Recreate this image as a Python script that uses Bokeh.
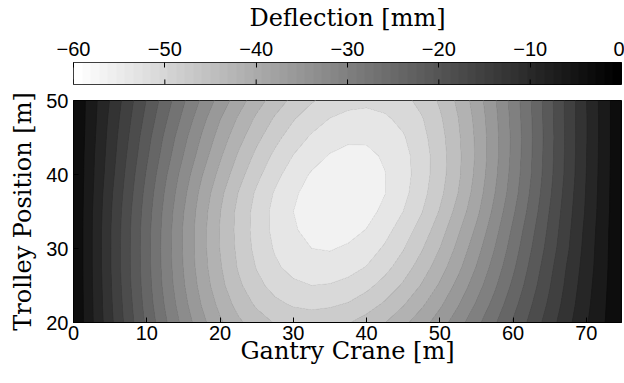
import numpy as np
from bokeh.plotting import figure
from bokeh.layouts import column
from bokeh.models import Range1d, FixedTicker, LinearColorMapper
from bokeh.embed import file_html
from bokeh.resources import INLINE

# ---- data ----
gantry_x = [0.0, 2.5, 5.0, 7.5, 10.0, 12.5, 15.0, 17.5, 20.0, 22.5, 25.0, 27.5, 30.0, 32.5, 35.0,
            37.5, 40.0, 42.5, 45.0, 47.5, 50.0, 52.5, 55.0, 57.5, 60.0, 62.5, 65.0, 67.5, 70.0, 72.5, 75.0]
trolley_y = [20.0, 22.5, 25.0, 27.5, 30.0, 32.5, 35.0, 37.5, 40.0, 42.5, 45.0, 47.5, 50.0]

# deflection [mm], one row per trolley position (bottom to top), one column per gantry position
deflection_mm = [
    [0, -5.6, -11.1, -16.5, -21.7, -26.5, -31.0, -35.1, -38.5, -41.4, -43.6, -45.2, -46.0, -46.3, -46.0, -45.2, -43.8, -42.1, -39.8, -37.3, -34.5, -31.3, -27.9, -24.4, -20.7, -17.1, -13.4, -9.8, -6.3, -3.1, 0],
    [0, -5.7, -11.4, -16.9, -22.3, -27.3, -32.0, -36.2, -39.9, -43.1, -45.5, -47.3, -48.4, -48.8, -48.5, -47.8, -46.4, -44.6, -42.3, -39.6, -36.6, -33.3, -29.7, -26.0, -22.1, -18.2, -14.4, -10.5, -6.8, -3.3, 0],
    [0, -5.8, -11.6, -17.3, -22.7, -27.9, -32.7, -37.1, -41.1, -44.4, -47.1, -49.1, -50.4, -51.0, -50.8, -50.1, -48.8, -46.9, -44.6, -41.8, -38.6, -35.1, -31.4, -27.5, -23.4, -19.3, -15.2, -11.1, -7.2, -3.5, 0],
    [0, -5.9, -11.8, -17.5, -22.9, -28.2, -33.1, -37.7, -41.7, -45.3, -48.2, -50.5, -52.0, -52.7, -52.8, -52.1, -50.9, -49.0, -46.5, -43.7, -40.4, -36.8, -32.9, -28.8, -24.6, -20.2, -15.9, -11.6, -7.6, -3.7, 0],
    [0, -5.9, -11.8, -17.5, -23.0, -28.3, -33.3, -37.9, -42.1, -45.7, -48.9, -51.3, -53.0, -54.0, -54.2, -53.6, -52.4, -50.6, -48.2, -45.3, -42.0, -38.2, -34.2, -30.0, -25.6, -21.1, -16.7, -12.3, -7.9, -3.8, 0],
    [0, -5.9, -11.8, -17.4, -22.9, -28.2, -33.3, -37.9, -42.2, -45.9, -49.2, -51.8, -53.7, -54.9, -55.3, -55.0, -53.9, -52.0, -49.6, -46.8, -43.4, -39.5, -35.5, -31.1, -26.5, -21.9, -17.3, -12.7, -8.2, -3.9, 0],
    [0, -5.8, -11.6, -17.2, -22.6, -27.9, -32.9, -37.6, -41.9, -45.8, -49.1, -51.9, -54.0, -55.4, -56.0, -55.9, -55.0, -53.3, -51.0, -48.2, -44.8, -40.9, -36.8, -32.2, -27.5, -22.8, -17.9, -13.1, -8.6, -4.1, 0],
    [0, -5.6, -11.3, -16.7, -22.1, -27.3, -32.2, -36.9, -41.2, -45.1, -48.5, -51.3, -53.5, -55.2, -56.1, -56.2, -55.6, -54.1, -51.9, -49.1, -45.8, -42.0, -37.7, -33.1, -28.4, -23.5, -18.5, -13.5, -8.8, -4.2, 0],
    [0, -5.4, -10.8, -16.2, -21.4, -26.5, -31.3, -35.8, -39.9, -43.8, -47.2, -50.1, -52.5, -54.3, -55.4, -55.8, -55.3, -54.1, -52.2, -49.5, -46.3, -42.6, -38.3, -33.7, -28.9, -24.0, -18.9, -13.9, -9.0, -4.3, 0],
    [0, -5.3, -10.4, -15.6, -20.6, -25.5, -30.1, -34.5, -38.6, -42.4, -45.8, -48.7, -51.1, -52.9, -54.2, -54.8, -54.6, -53.7, -52.0, -49.5, -46.4, -42.7, -38.6, -34.0, -29.2, -24.2, -19.1, -14.0, -9.1, -4.4, 0],
    [0, -5.0, -10.1, -15.0, -19.9, -24.6, -29.1, -33.3, -37.3, -40.9, -44.2, -47.1, -49.5, -51.4, -52.8, -53.5, -53.6, -52.8, -51.3, -49.0, -46.1, -42.5, -38.5, -34.0, -29.3, -24.3, -19.2, -14.1, -9.2, -4.4, 0],
    [0, -4.8, -9.7, -14.4, -19.0, -23.5, -27.8, -32.0, -35.9, -39.4, -42.6, -45.4, -47.8, -49.7, -51.1, -51.9, -52.1, -51.5, -50.2, -48.3, -45.5, -42.1, -38.2, -33.8, -29.1, -24.2, -19.1, -14.0, -9.2, -4.4, 0],
    [0, -4.7, -9.2, -13.8, -18.2, -22.5, -26.6, -30.5, -34.2, -37.6, -40.7, -43.4, -45.8, -47.7, -49.1, -50.0, -50.3, -49.9, -48.9, -47.1, -44.6, -41.4, -37.6, -33.4, -28.8, -24.0, -19.0, -14.0, -9.1, -4.4, 0],
]

levels_mm = [-60, -57, -54, -51, -48, -45, -42, -39, -36, -33, -30, -27, -24, -21, -18, -15, -12, -9, -6, -3, 0]
x_ticks = [0, 10, 20, 30, 40, 50, 60, 70]
y_ticks = [20, 30, 40, 50]
cbar_ticks = [-60, -50, -40, -30, -20, -10, 0]

CMIN, CMAX = -60.0, 0.0


def gray_hex(v):
    g = int(round(255 * (CMAX - v) / (CMAX - CMIN)))
    g = max(0, min(255, g))
    return "#%02x%02x%02x" % (g, g, g)


# band between level l and the next one is coloured by its lower level (MATLAB contourf style)
fill_colors = [gray_hex(l) for l in levels_mm[:-1]]
# each level line takes the colour of the band above it, hiding anti-aliasing seams
line_colors = [gray_hex(l) for l in levels_mm]

SANS = "Liberation Sans"
SERIF = "DejaVu Serif"
TICK_SIZE = "20px"
LABEL_SIZE = "24px"


def style_axis(ax):
    ax.major_tick_in = 5
    ax.major_tick_out = 0
    ax.minor_tick_in = 0
    ax.minor_tick_out = 0
    ax.axis_line_color = "black"
    ax.major_tick_line_color = "black"
    ax.major_label_text_font = SANS
    ax.major_label_text_font_size = TICK_SIZE
    ax.major_label_text_color = "black"
    ax.axis_label_text_font = SERIF
    ax.axis_label_text_font_size = LABEL_SIZE
    ax.axis_label_text_font_style = "normal"
    ax.axis_label_text_color = "black"


# ---- colour bar (separate figure on top) ----
cb = figure(frame_width=548, frame_height=22,
            x_range=Range1d(CMIN, CMAX), y_range=Range1d(0, 1),
            x_axis_location="above", y_axis_location=None,
            toolbar_location=None, output_backend="svg",
            min_border_left=73, min_border_right=3, min_border_top=62, min_border_bottom=2)
cb.grid.visible = False
cb.outline_line_color = "black"
cb.outline_line_width = 1
cb_palette = [gray_hex(CMIN + (CMAX - CMIN) * k / 63.0) for k in range(64)]
mapper = LinearColorMapper(palette=cb_palette, low=CMIN, high=CMAX)
ramp = np.linspace(CMIN, CMAX, 64).reshape(1, -1)
cb.image(image=[ramp], x=CMIN, y=0, dw=CMAX - CMIN, dh=1, color_mapper=mapper)
# inner tick marks along the lower edge of the colour bar
cb.segment(x0=cbar_ticks, y0=[0] * len(cbar_ticks), x1=cbar_ticks, y1=[0.23] * len(cbar_ticks),
           line_color="black", line_width=1)
cb.xaxis.ticker = FixedTicker(ticks=cbar_ticks)
cb.xaxis.major_label_overrides = {t: ("\u2212%d" % (-t) if t < 0 else "0") for t in cbar_ticks}
cb.xaxis.axis_label = "Deflection [mm]"
style_axis(cb.xaxis[0])
cb.xaxis.major_label_standoff = 7
cb.xaxis.axis_label_standoff = 7
cb.xaxis.axis_line_color = None

# ---- contour plot ----
p = figure(frame_width=548, frame_height=222,
           x_range=Range1d(0, 74.8), y_range=Range1d(20, 50),
           toolbar_location=None, output_backend="svg",
           min_border_left=73, min_border_right=3, min_border_top=14, min_border_bottom=61)
p.grid.visible = False
p.background_fill_color = gray_hex(-3)
p.outline_line_color = "black"
p.outline_line_width = 1

p.contour(x=gantry_x, y=trolley_y, z=np.array(deflection_mm, dtype=float), levels=levels_mm,
          fill_color=fill_colors, line_color=line_colors, line_width=1)

p.xaxis.ticker = FixedTicker(ticks=x_ticks)
p.yaxis.ticker = FixedTicker(ticks=y_ticks)
p.xaxis.axis_label = "Gantry Crane [m]"
p.yaxis.axis_label = "Trolley Position [m]"
style_axis(p.xaxis[0])
style_axis(p.yaxis[0])
p.xaxis.major_label_standoff = 3
p.xaxis.axis_label_standoff = -6
p.yaxis.major_label_standoff = 5
p.yaxis.axis_label_standoff = 6

layout = column(cb, p)
open("out.html", "w").write(file_html(layout, INLINE))
